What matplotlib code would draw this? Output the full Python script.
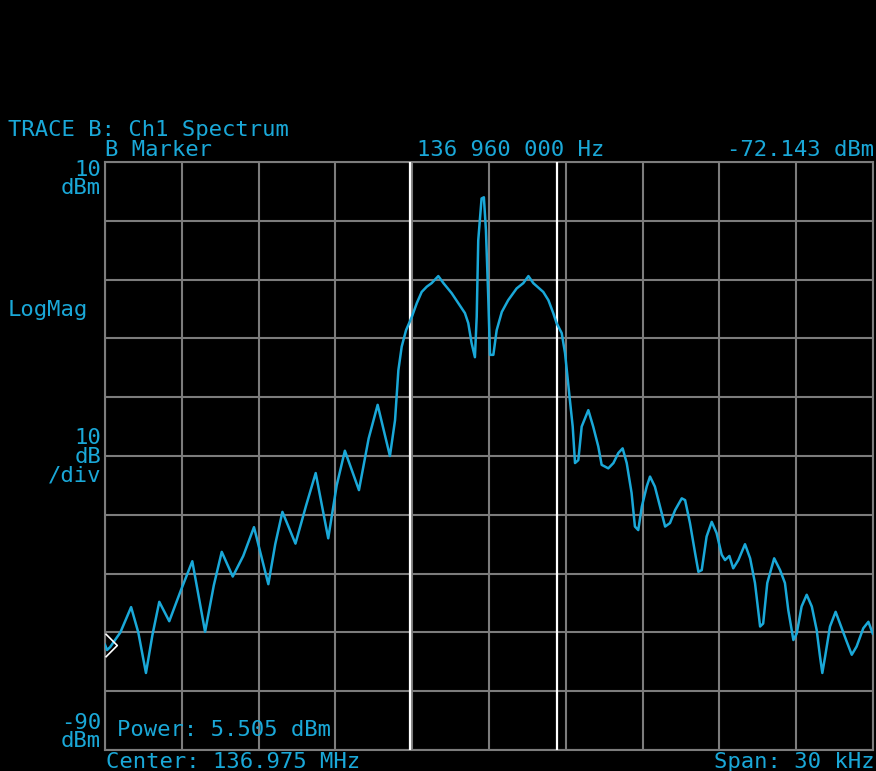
import matplotlib
matplotlib.use("Agg")
import matplotlib.pyplot as plt
from matplotlib.path import Path

W, H = 876, 771

# trace: offset from centre (kHz) and level (dBm)
freq_khz = [-15.00, -14.92, -14.80, -14.40, -13.98, -13.70, -13.40, -13.15, -12.88, -12.49,
            -12.05, -11.59, -11.09, -10.75, -10.44, -10.01, -9.60, -9.18, -8.62, -8.35,
            -8.07, -7.56, -7.15, -6.77, -6.28, -5.95, -5.63, -5.08, -4.70, -4.35,
            -3.87, -3.67, -3.54, -3.41, -3.24, -3.02, -2.82, -2.63, -2.43, -2.24,
            -1.98, -1.78, -1.46, -1.20, -0.94, -0.81, -0.68, -0.55, -0.48, -0.42,
            -0.29, -0.20, -0.12, -0.03, 0.04, 0.17, 0.30, 0.50, 0.75, 1.08,
            1.34, 1.54, 1.73, 2.12, 2.32, 2.51, 2.64, 2.84, 2.97, 3.05,
            3.16, 3.27, 3.36, 3.49, 3.62, 3.88, 4.07, 4.27, 4.40, 4.66,
            4.86, 5.05, 5.22, 5.38, 5.57, 5.70, 5.83, 5.97, 6.16, 6.29,
            6.48, 6.68, 6.88, 7.07, 7.27, 7.53, 7.66, 7.85, 8.05, 8.18,
            8.31, 8.50, 8.70, 8.89, 9.09, 9.22, 9.39, 9.54, 9.74, 10.00,
            10.20, 10.39, 10.59, 10.71, 10.87, 11.14, 11.37, 11.56, 11.69, 11.89,
            12.02, 12.21, 12.41, 12.61, 12.80, 12.93, 13.02, 13.13, 13.32, 13.54,
            13.71, 13.95, 14.17, 14.36, 14.62, 14.82, 14.99]
level_dbm = [-72.1, -73.0, -72.5, -70.0, -65.7, -70.0, -76.9, -70.5, -64.8, -68.1,
             -63.0, -57.9, -69.9, -62.0, -56.3, -60.5, -57.0, -52.1, -61.8, -55.0,
             -49.5, -54.9, -48.5, -42.9, -54.0, -45.0, -39.1, -45.8, -37.0, -31.3,
             -40.0, -33.9, -25.4, -21.4, -18.6, -16.4, -14.0, -12.1, -11.2, -10.6,
             -9.4, -10.6, -12.3, -14.0, -15.7, -17.4, -20.8, -23.2, -16.3, -3.3,
             3.8, 4.0, -1.6, -12.9, -22.8, -22.8, -18.6, -15.5, -13.5, -11.5,
             -10.6, -9.4, -10.6, -12.1, -13.5, -15.7, -17.4, -19.1, -22.5, -25.9,
             -30.5, -35.0, -41.2, -40.7, -35.0, -32.2, -35.0, -38.4, -41.5, -42.1,
             -41.2, -39.5, -38.7, -41.2, -46.3, -52.0, -52.6, -48.6, -45.2, -43.5,
             -45.2, -48.6, -52.0, -51.4, -49.2, -47.2, -47.5, -51.4, -56.5, -59.7,
             -59.4, -53.7, -51.2, -53.1, -56.8, -57.7, -57.0, -59.1, -57.7, -55.0,
             -57.4, -61.6, -69.0, -68.5, -61.6, -57.4, -59.4, -61.6, -66.2, -71.3,
             -70.2, -65.6, -63.6, -65.6, -69.6, -74.1, -76.9, -74.1, -69.0, -66.5,
             -68.5, -71.3, -73.8, -72.4, -69.3, -68.2, -70.2]

band_edges_khz = [-3.09, 2.67]
marker_khz, marker_dbm = -15.0, -72.1

y_top, y_bottom = 10, -90
span_khz = 30

CYAN = "#1aa8d8"
GRID = "#7c7c7c"
FONT = "DejaVu Sans Mono"
FS = 16

fig = plt.figure(figsize=(W / 100, H / 100), dpi=100, facecolor="black")
ax = fig.add_axes([105 / W, (H - 750) / H, 768 / W, 588 / H], facecolor="black")

ax.set_xlim(-span_khz / 2, span_khz / 2)
ax.set_ylim(y_bottom, y_top)
ax.set_xticks([-15 + 3 * i for i in range(11)])
ax.set_yticks([y_bottom + 10 * i for i in range(11)])
ax.grid(True, color=GRID, lw=1.5)
ax.tick_params(length=0, labelbottom=False, labelleft=False)
for s in ax.spines.values():
    s.set_color(GRID)
    s.set_linewidth(1.5)

for f in band_edges_khz:
    ax.axvline(f, color="white", lw=1.6, zorder=3)

ax.plot(freq_khz, level_dbm, color=CYAN, lw=1.8, zorder=4)

tri = Path([(0, 1), (1, 0), (0, -1)], [Path.MOVETO, Path.LINETO, Path.LINETO])
ax.plot([marker_khz], [marker_dbm], marker=tri, ms=17, mfc="none", mec="white",
        mew=1.2, clip_on=False, zorder=5)


def label(x, y, s, ha="left", ls=1.2):
    fig.text(x / W, 1 - y / H, s, color=CYAN, fontsize=FS, family=FONT,
             ha=ha, va="center", multialignment=ha, linespacing=ls)


label(8, 130, "TRACE B: Ch1 Spectrum")
label(105, 150, "B Marker")
label(417, 150, "136 960 000 Hz")
label(874, 150, "-72.143 dBm", ha="right")
label(101, 179, "10\ndBm", ha="right", ls=0.92)
label(8, 310, "LogMag")
label(101, 457, "10\ndB\n/div", ha="right", ls=0.92)
label(101, 732, "-90\ndBm", ha="right", ls=0.92)
label(117, 730, "Power: 5.505 dBm")
label(106, 762, "Center: 136.975 MHz")
label(874, 762, "Span: 30 kHz", ha="right")

fig.savefig("out.png", dpi=100, facecolor="black")
